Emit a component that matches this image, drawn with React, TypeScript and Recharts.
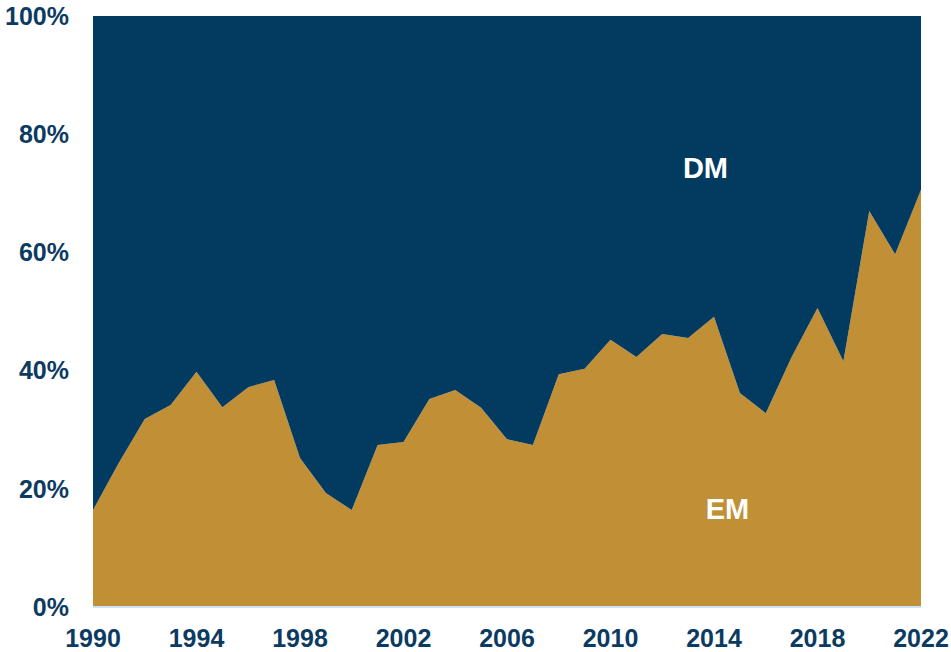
import { AreaChart, Area, XAxis, YAxis, ReferenceDot } from 'recharts';

const years = [
  1990, 1991, 1992, 1993, 1994, 1995, 1996, 1997, 1998, 1999, 2000,
  2001, 2002, 2003, 2004, 2005, 2006, 2007, 2008, 2009, 2010, 2011,
  2012, 2013, 2014, 2015, 2016, 2017, 2018, 2019, 2020, 2021, 2022,
];

// EM share of the total, in %
const emShare = [
  16.4, 24.4, 31.8, 34.2, 39.8, 33.8, 37.2, 38.4, 25.2, 19.3, 16.4,
  27.4, 27.9, 35.2, 36.7, 33.7, 28.4, 27.4, 39.4, 40.3, 45.2, 42.3,
  46.2, 45.5, 49.1, 36.2, 32.8, 42.3, 50.6, 41.6, 67.0, 59.7, 70.6,
];

const xTicks = [1990, 1994, 1998, 2002, 2006, 2010, 2014, 2018, 2022];
const yTicks = [0, 20, 40, 60, 80, 100];

const data = years.map((year, i) => ({
  year,
  EM: emShare[i],
  DM: +(100 - emShare[i]).toFixed(1),
}));

const NAVY = '#023a60';
const GOLD = '#c18f35';
const TEXT = '#0c3b62';

const tickStyle = {
  fill: TEXT,
  fontSize: 25,
  fontWeight: 700,
  fontFamily: 'Liberation Sans, Arial, sans-serif',
};

const areaLabel = (text: string) => ({
  value: text,
  position: 'center' as const,
  fill: '#ffffff',
  fontSize: 29,
  fontWeight: 700,
  fontFamily: 'Liberation Sans, Arial, sans-serif',
});

export default function App() {
  return (
    <div style={{ position: 'absolute', left: 0, top: 0 }}>
      <AreaChart
        width={951}
        height={652}
        data={data}
        margin={{ top: 16, right: 30, bottom: 5, left: 13 }}
      >
        <XAxis
          dataKey="year"
          type="number"
          domain={[1990, 2022]}
          ticks={xTicks}
          tickLine={false}
          tickMargin={16}
          height={40}
          axisLine={{ stroke: '#c8e4f5', strokeWidth: 2 }}
          tick={tickStyle}
          interval={0}
        />
        <YAxis
          type="number"
          domain={[0, 100]}
          ticks={yTicks}
          tickFormatter={(v: number) => `${v}%`}
          tickLine={false}
          axisLine={false}
          tickMargin={18}
          width={80}
          tick={tickStyle}
          interval={0}
        />
        <Area
          type="linear"
          dataKey="EM"
          stackId="1"
          stroke="none"
          fill={GOLD}
          fillOpacity={1}
          isAnimationActive={false}
        />
        <Area
          type="linear"
          dataKey="DM"
          stackId="1"
          stroke="none"
          fill={NAVY}
          fillOpacity={1}
          isAnimationActive={false}
        />
        <ReferenceDot x={2013.67} y={74.3} r={0} label={areaLabel('DM')} />
        <ReferenceDot x={2014.52} y={16.6} r={0} label={areaLabel('EM')} />
      </AreaChart>
    </div>
  );
}
